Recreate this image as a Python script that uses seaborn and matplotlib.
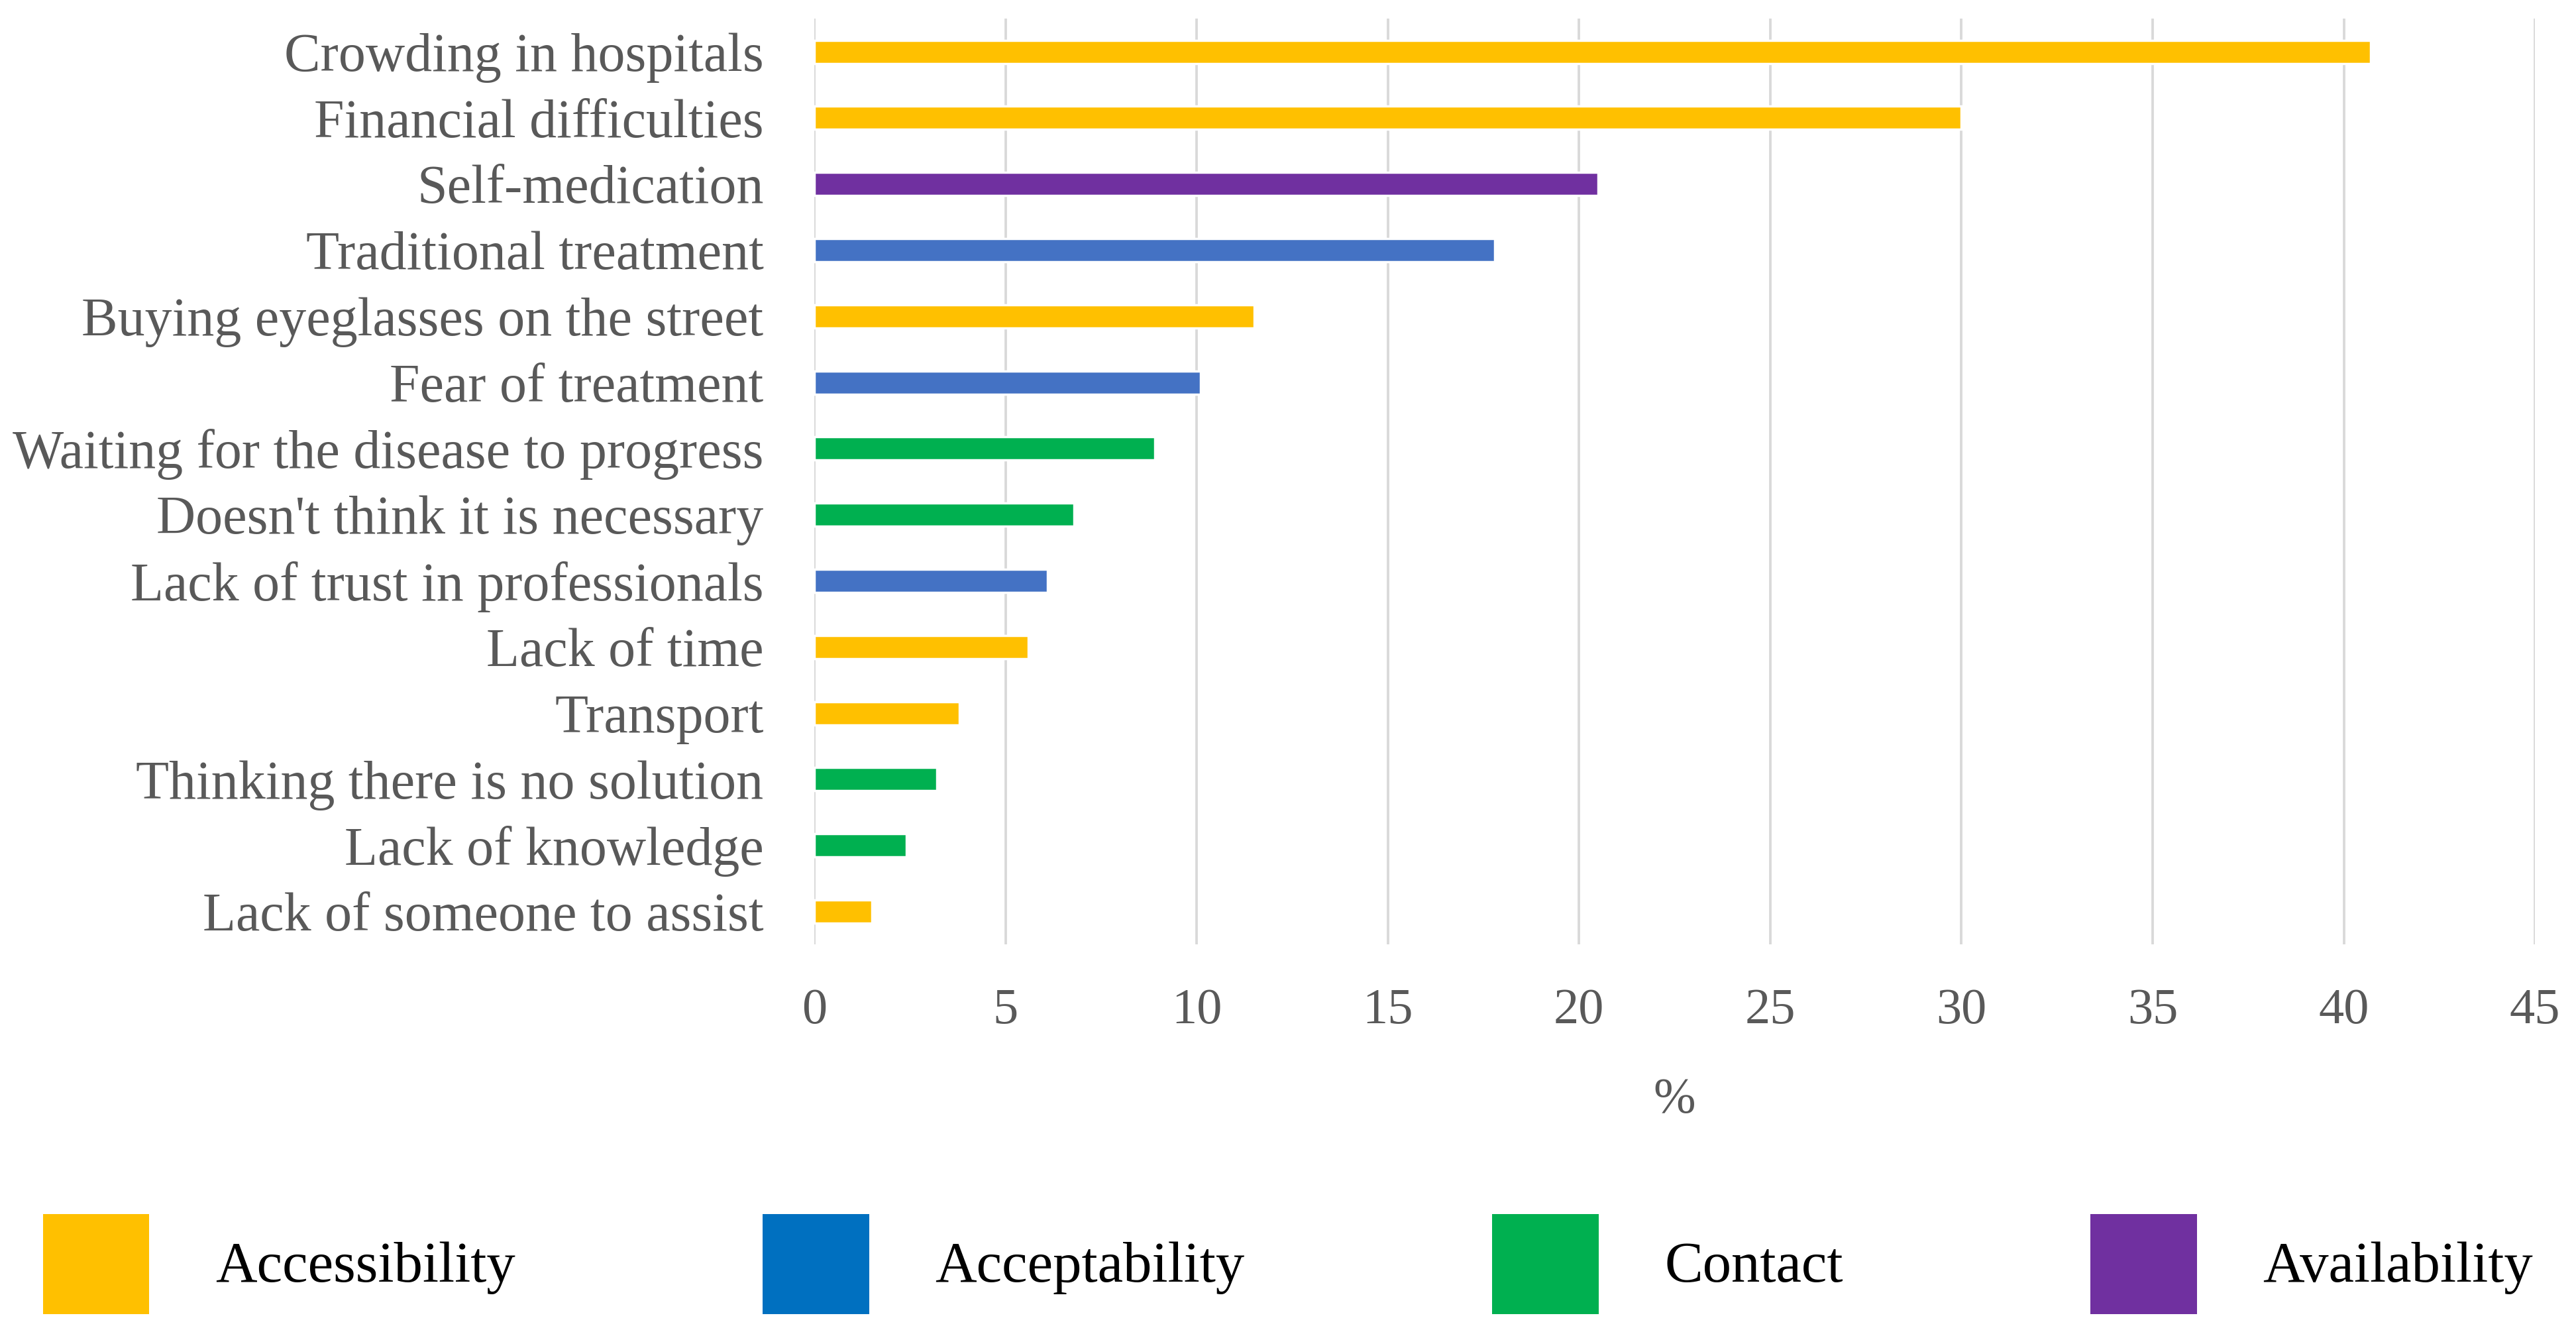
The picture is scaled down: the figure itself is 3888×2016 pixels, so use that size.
import matplotlib
matplotlib.use("Agg")
import matplotlib.pyplot as plt
from matplotlib.patches import Patch
import pandas as pd
import seaborn as sns

# Reasons for not seeking eye care, % of respondents
reasons = [
    "Crowding in hospitals",
    "Financial difficulties",
    "Self-medication",
    "Traditional treatment",
    "Buying eyeglasses on the street",
    "Fear of treatment",
    "Waiting for the disease to progress",
    "Doesn't think it is necessary",
    "Lack of trust in professionals",
    "Lack of time",
    "Transport",
    "Thinking there is no solution",
    "Lack of knowledge",
    "Lack of someone to assist",
]
percent = [40.7, 30.0, 20.5, 17.8, 11.5, 10.1, 8.9, 6.8, 6.1, 5.6, 3.8, 3.2, 2.4, 1.5]
groups = [
    "Accessibility", "Accessibility", "Availability", "Acceptability",
    "Accessibility", "Acceptability", "Contact", "Contact",
    "Acceptability", "Accessibility", "Accessibility", "Contact",
    "Contact", "Accessibility",
]
legend_order = ["Accessibility", "Acceptability", "Contact", "Availability"]
x_ticks = [0, 5, 10, 15, 20, 25, 30, 35, 40, 45]

bar_colors = {"Accessibility": "#FFC000", "Acceptability": "#4472C4",
              "Contact": "#00B050", "Availability": "#7030A0"}
legend_colors = {"Accessibility": "#FFC000", "Acceptability": "#0070C0",
                 "Contact": "#00B050", "Availability": "#7030A0"}

df = pd.DataFrame({"reason": reasons, "percent": percent, "group": groups})

sns.set_theme(style="white")
plt.rcParams["font.family"] = ["Liberation Serif", "DejaVu Serif"]

fig = plt.figure(figsize=(15.552, 8.064), dpi=250)
ax = fig.add_axes([0.3161, 0.293, 0.668, 0.693])

sns.barplot(data=df, x="percent", y="reason", hue="group", palette=bar_colors,
            dodge=False, width=0.35, legend=False, ax=ax, saturation=1)

ax.set_xlim(0, 45)
ax.set_xticks(x_ticks)
ax.grid(axis="x", color="#D9D9D9", linewidth=1.1)
ax.set_axisbelow(True)
for s in ax.spines.values():
    s.set_visible(False)
ax.tick_params(axis="both", length=0, colors="#595959")
ax.tick_params(axis="y", pad=22, labelsize=23.6)
ax.tick_params(axis="x", pad=19, labelsize=22)
ax.set_ylabel("")
ax.set_xlabel("%", fontsize=22, color="#595959", labelpad=19)

handles = [Patch(facecolor=legend_colors[g], edgecolor="none", label=g) for g in legend_order]
fig.legend(handles=handles, loc="center", bbox_to_anchor=(0.5, 0.054), ncol=4,
           frameon=False, fontsize=25, handlelength=1.85, handleheight=2.3,
           handletextpad=1.15, columnspacing=4.3, labelcolor="black")

fig.savefig("out.png", dpi=250)
